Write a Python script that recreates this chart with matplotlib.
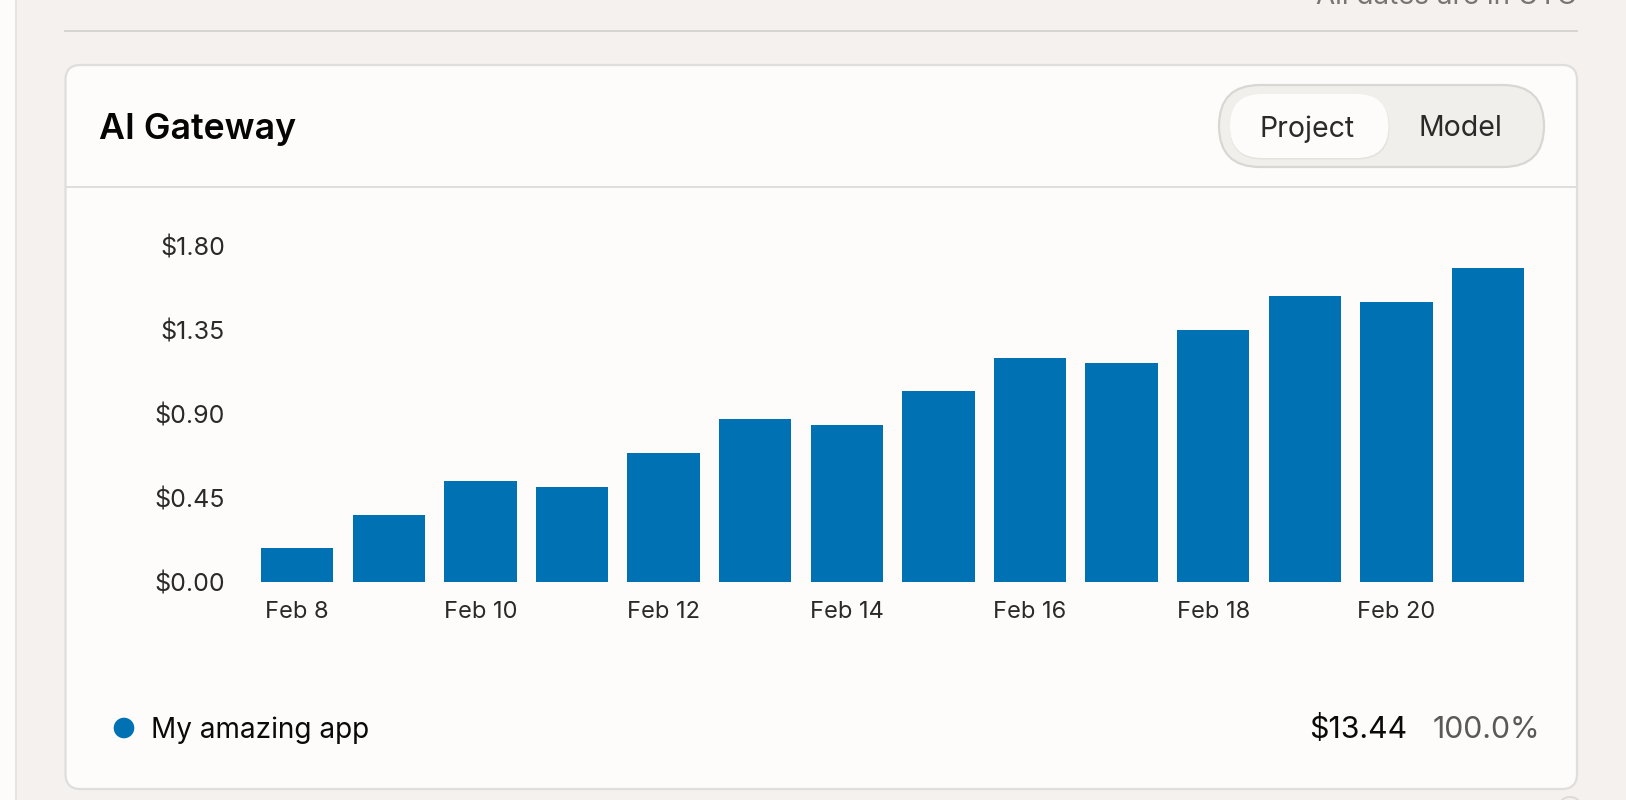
import matplotlib
matplotlib.use("Agg")
import matplotlib.pyplot as plt
from matplotlib.patches import FancyBboxPatch, Rectangle, Circle

plt.rcParams['font.family'] = ['Inter', 'DejaVu Sans']

# Data
days = ["Feb 8", "Feb 9", "Feb 10", "Feb 11", "Feb 12", "Feb 13", "Feb 14",
        "Feb 15", "Feb 16", "Feb 17", "Feb 18", "Feb 19", "Feb 20", "Feb 21"]
spend = [0.181, 0.359, 0.542, 0.511, 0.692, 0.873, 0.842,
         1.025, 1.202, 1.173, 1.352, 1.534, 1.502, 1.685]
y_ticks = [0.0, 0.45, 0.90, 1.35, 1.80]
series_name = "My amazing app"
total_label = "$13.44"
share_label = "100.0%"
title = "AI Gateway"
toggle_labels = ["Project", "Model"]
note = "All dates are in UTC"

W, H = 1626, 800
BLUE = "#0072B3"
PAGE = "#F4F1EE"
CARD = "#FDFCFB"
LINE = "#DFDEDC"
INK = "#2B2A29"

fig = plt.figure(figsize=(W / 100, H / 100), dpi=100, facecolor=PAGE)

# Page-furniture layer in pixel coordinates
bg = fig.add_axes([0, 0, 1, 1], zorder=0)
bg.set_xlim(0, W)
bg.set_ylim(H, 0)
bg.axis("off")


def rrect(x0, y0, x1, y1, r, **kw):
    p = FancyBboxPatch((x0 + r, y0 + r), x1 - x0 - 2 * r, y1 - y0 - 2 * r,
                       boxstyle=f"round,pad={r},rounding_size={r}", **kw)
    bg.add_patch(p)
    return p


# left strip of the page
bg.add_patch(Rectangle((0, 0), 15, H, fc=CARD, ec="none"))
bg.add_patch(Rectangle((15, 0), 1.5, H, fc="#E6E5E2", ec="none"))

# top divider and note
bg.add_patch(Rectangle((64, 30), 1514, 2, fc="#D6D5D1", ec="none"))
bg.text(1577, 4, note, ha="right", va="baseline", fontsize=20, color="#777674")

# card
rrect(65.5, 65, 1577, 789, 15, fc=CARD, ec=LINE, lw=1.6)
bg.add_patch(Rectangle((66, 186), 1510, 2, fc=LINE, ec="none"))
bg.text(98.5, 125.5, title, ha="left", va="center_baseline", fontsize=25.7,
        fontweight="semibold", color="#050505")

# toggle
rrect(1219, 85, 1544, 167, 41, fc="#F1EFEC", ec="#D8D7D4", lw=1.6)
rrect(1230, 95.5, 1389.5, 159.5, 32, fc="#E4E3E0", ec="none")
rrect(1230, 94, 1388.5, 158, 32, fc=CARD, ec="none")
bg.text(1307, 126, toggle_labels[0], ha="center", va="center_baseline",
        fontsize=20.5, color=INK)
bg.text(1460, 126, toggle_labels[1], ha="center", va="center_baseline",
        fontsize=20.5, color=INK)

# legend row
bg.add_patch(Circle((124, 728), 10.3, fc=BLUE, ec="none"))
bg.text(151, 738, series_name, ha="left", va="baseline", fontsize=20.1, color="#0A0A0A")
bg.text(1407.5, 738, total_label, ha="right", va="baseline", fontsize=21.8, color="#0A0A0A")
bg.text(1540, 738, share_label, ha="right", va="baseline", fontsize=21.8, color="#5A5957")

# partial ring at bottom right
bg.add_patch(Circle((1570, 809), 12, fc=PAGE, ec="#DDDCD9", lw=1.5))

# Chart
left, right, top, bottom = 251.4, 1533.8, 246.5, 582.0
ax = fig.add_axes([left / W, 1 - bottom / H, (right - left) / W, (bottom - top) / H],
                  zorder=1)
ax.patch.set_alpha(0)
x = list(range(len(days)))
ax.bar(x, spend, width=0.79, color=BLUE, linewidth=0)
ax.set_xlim(-0.5, len(days) - 0.5)
ax.set_ylim(0, 1.8)
ax.set_yticks(y_ticks, [f"${v:.2f}" for v in y_ticks])
ax.set_xticks(x[::2], days[::2])
ax.tick_params(axis="y", length=0, pad=19, labelsize=18, labelcolor=INK)
ax.tick_params(axis="x", length=0, pad=14, labelsize=17, labelcolor=INK)
for s in ax.spines.values():
    s.set_visible(False)

fig.savefig("out.png", dpi=100, facecolor=PAGE)
